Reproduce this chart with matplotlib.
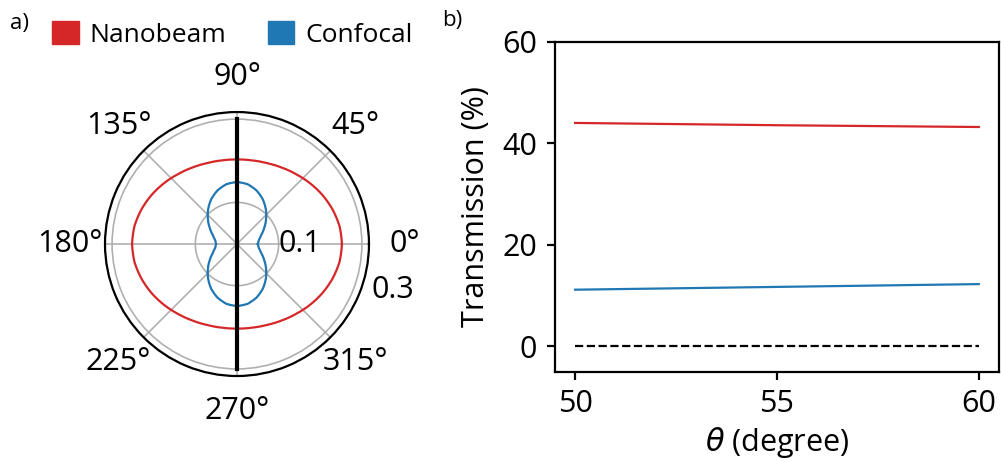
import numpy as np
import matplotlib
matplotlib.use("Agg")
import matplotlib.pyplot as plt
from matplotlib.patches import Patch

plt.rcParams["font.family"] = ["Open Sans", "DejaVu Sans"]
plt.rcParams["font.size"] = 22
plt.rcParams["axes.linewidth"] = 1.6

C_RED = "#d62728"
C_BLUE = "#1f77b4"

# --- polar panel data (angle in degrees, radius), one quadrant read off ------
# the picture; the patterns are mirror symmetric about both axes
quad_deg = [0, 10, 20, 30, 40, 50, 60, 70, 80, 90]
quad_nanobeam = [0.252, 0.250, 0.244, 0.2365, 0.228, 0.2195, 0.2125, 0.207,
                 0.204, 0.203]
quad_confocal = [0.050, 0.053, 0.0615, 0.075, 0.091, 0.108, 0.124, 0.137,
                 0.146, 0.149]
axis_deg = [90, 90, 270, 270]
axis_r = [0.3, 0.0, 0.0, 0.3]
r_ticks = [0.1, 0.3]

# --- transmission panel data -------------------------------------------------
theta_x = [50, 55, 60]
t_nanobeam = [44.0, 43.55, 43.2]
t_confocal = [11.15, 11.7, 12.25]
t_zero = [0, 0, 0]


def full_turn(deg, r):
    # mirror one quadrant into a closed 0..360 curve
    d = np.asarray(deg, float)
    v = np.asarray(r, float)
    ang = np.concatenate([d, 180 - d[::-1][1:], 180 + d[1:], 360 - d[::-1][1:]])
    rad = np.concatenate([v, v[::-1][1:], v[1:], v[::-1][1:]])
    return np.deg2rad(ang), rad


fig = plt.figure(figsize=(10.01, 4.62), dpi=100)

# --- a) polar ----------------------------------------------------------------
axp = fig.add_axes([0.1049, 0.1861, 0.2637, 0.5714], projection="polar")
for r_q, col in [(quad_nanobeam, C_RED), (quad_confocal, C_BLUE)]:
    th, rr = full_turn(quad_deg, r_q)
    ln, = axp.plot(th, rr, color=col, lw=1.6)
    ln.get_path()._interpolation_steps = 20
axp.plot(np.deg2rad(axis_deg), axis_r, color="black", lw=3)
axp.set_rmax(0.317)
axp.set_rticks(r_ticks)
axp.set_yticklabels([])
axp.set_thetagrids(range(0, 360, 45))
axp.tick_params(axis="x", pad=15)
axp.grid(color="#b0b0b0", lw=1.2)
axp.text(0, 0.1, "0.1", ha="left", va="center")
axp.text(np.deg2rad(-16.4), 0.39, "0.3", ha="center", va="center")

fig.legend(handles=[Patch(color=C_RED, label="Nanobeam"),
                    Patch(color=C_BLUE, label="Confocal")],
           loc="center", bbox_to_anchor=(0.232, 0.926), ncol=2, frameon=False,
           fontsize=19, handlelength=1.0, handleheight=1.0, handletextpad=0.4,
           columnspacing=1.6, borderaxespad=0)

# --- b) transmission ---------------------------------------------------------
ax = fig.add_axes([0.5544, 0.1955, 0.4436, 0.7142])
ax.plot(theta_x, t_nanobeam, color=C_RED, lw=1.6)
ax.plot(theta_x, t_confocal, color=C_BLUE, lw=1.6)
ax.plot(theta_x, t_zero, "k--", lw=1.6)
ax.set_ylim(-5, 60)
ax.set_xticks([50, 55, 60])
ax.set_yticks([0, 20, 40, 60])
ax.tick_params(length=5.8, width=1.6, pad=7)
ax.set_xlabel(r"$\theta$ (degree)")
ax.set_ylabel("Transmission (%)", labelpad=8)

fig.text(0.010, 0.950, "a)", fontsize=16, va="center")
fig.text(0.442, 0.955, "b)", fontsize=16, va="center")

fig.savefig("out.png", dpi=100)
